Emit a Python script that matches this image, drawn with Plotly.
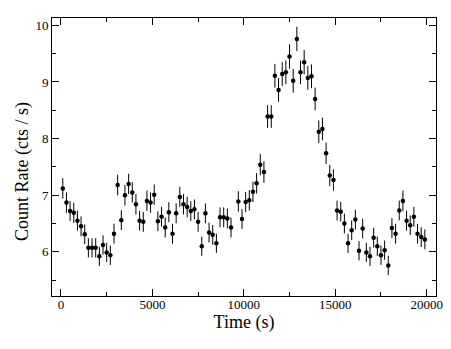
import plotly.graph_objects as go

# light curve bins (s), count rate (cts/s) and 1-sigma errors
time = [100, 300, 500, 700, 900, 1100, 1300, 1500, 1700, 1900,
        2100, 2300, 2500, 2700, 2900, 3100, 3300, 3500, 3700, 3900,
        4100, 4300, 4500, 4700, 4900, 5100, 5300, 5500, 5700, 5900,
        6100, 6300, 6500, 6700, 6900, 7100, 7300, 7500, 7700, 7900,
        8100, 8300, 8500, 8700, 8900, 9100, 9300, 9500, 9700, 9900,
        10100, 10300, 10500, 10700, 10900, 11100, 11300, 11500, 11700, 11900,
        12100, 12300, 12500, 12700, 12900, 13100, 13300, 13500, 13700, 13900,
        14100, 14300, 14500, 14700, 14900, 15100, 15300, 15500, 15700, 15900,
        16100, 16300, 16500, 16700, 16900, 17100, 17300, 17500, 17700, 17900,
        18100, 18300, 18500, 18700, 18900, 19100, 19300, 19500, 19700, 19900]

rate = [7.12, 6.87, 6.72, 6.69, 6.55, 6.45, 6.31, 6.07, 6.07, 6.07,
        5.92, 6.12, 5.99, 5.94, 6.32, 7.18, 6.56, 7.00, 7.20, 7.05,
        6.84, 6.55, 6.53, 6.90, 6.87, 7.01, 6.54, 6.62, 6.43, 6.70,
        6.32, 6.68, 6.97, 6.84, 6.79, 6.72, 6.75, 6.53, 6.10, 6.68,
        6.34, 6.30, 6.15, 6.61, 6.61, 6.59, 6.43, None, 6.89, 6.58,
        6.88, 6.91, 7.06, 7.21, 7.54, 7.41, 8.39, 8.39, 9.11, 8.86,
        9.14, 9.17, 9.45, 9.02, 9.76, 9.17, 9.35, 9.07, 9.10, 8.70,
        8.12, 8.17, 7.74, 7.35, 7.27, 6.73, 6.71, 6.50, 6.15, 6.38,
        6.57, 6.02, 6.41, 5.99, 5.92, 6.25, 6.10, 5.94, 6.03, 5.76,
        6.42, 6.32, 6.73, 6.90, 6.55, 6.47, 6.62, 6.32, 6.26, 6.22]

err = [0.18, 0.18, 0.175, 0.175, 0.175, 0.175, 0.175, 0.17, 0.17, 0.17,
       0.17, 0.17, 0.17, 0.17, 0.175, 0.18, 0.175, 0.18, 0.18, 0.18,
       0.18, 0.175, 0.175, 0.18, 0.18, 0.18, 0.175, 0.175, 0.175, 0.175,
       0.175, 0.175, 0.18, 0.18, 0.18, 0.175, 0.175, 0.175, 0.17, 0.175,
       0.175, 0.175, 0.17, 0.175, 0.175, 0.175, 0.175, None, 0.18, 0.175,
       0.18, 0.18, 0.18, 0.18, 0.19, 0.19, 0.2, 0.2, 0.21, 0.21,
       0.21, 0.21, 0.215, 0.21, 0.215, 0.21, 0.215, 0.21, 0.21, 0.2,
       0.2, 0.2, 0.19, 0.19, 0.19, 0.175, 0.175, 0.175, 0.17, 0.175,
       0.175, 0.17, 0.175, 0.17, 0.17, 0.175, 0.17, 0.17, 0.17, 0.17,
       0.175, 0.175, 0.175, 0.18, 0.175, 0.175, 0.175, 0.175, 0.175, 0.175]

FONT = "Liberation Serif"

fig = go.Figure()
fig.add_trace(go.Scatter(
    x=time, y=rate, mode="markers",
    marker=dict(color="black", size=4.5),
    error_y=dict(type="data", array=err, color="black", thickness=1, width=0),
    showlegend=False))

axis_style = dict(showline=True, linecolor="black", linewidth=1, mirror="ticks",
                  ticks="inside", ticklen=7, tickcolor="black", tickwidth=1,
                  showgrid=False, zeroline=False, automargin=False,
                  tickfont=dict(family=FONT, size=13, color="black"))

fig.update_xaxes(range=[-490, 20510], tick0=0, dtick=5000, tickformat="d",
                 ticklabelstandoff=-4,
                 minor=dict(ticks="inside", ticklen=4, dtick=2500, tickcolor="black"),
                 title=dict(text="Time (s)", font=dict(family=FONT, size=18, color="black"),
                            standoff=2),
                 **axis_style)
fig.update_yaxes(range=[5.22, 10.13], tick0=0, dtick=1,
                 minor=dict(ticks="inside", ticklen=4, dtick=0.5, tickcolor="black"),
                 **axis_style)

fig.add_annotation(text="Count Rate (cts / s)", xref="paper", yref="paper",
                   x=-0.078, y=0.446, xanchor="center", yanchor="middle",
                   textangle=-90, showarrow=False,
                   font=dict(family=FONT, size=18, color="black"))

# page body adds an 8px offset, so the figure is drawn 8px smaller on each side
fig.update_layout(width=443, height=341, plot_bgcolor="white", paper_bgcolor="white",
                  font=dict(family=FONT, color="black"),
                  margin=dict(l=44, r=15, t=10, b=53))

fig.write_html("out.html")
